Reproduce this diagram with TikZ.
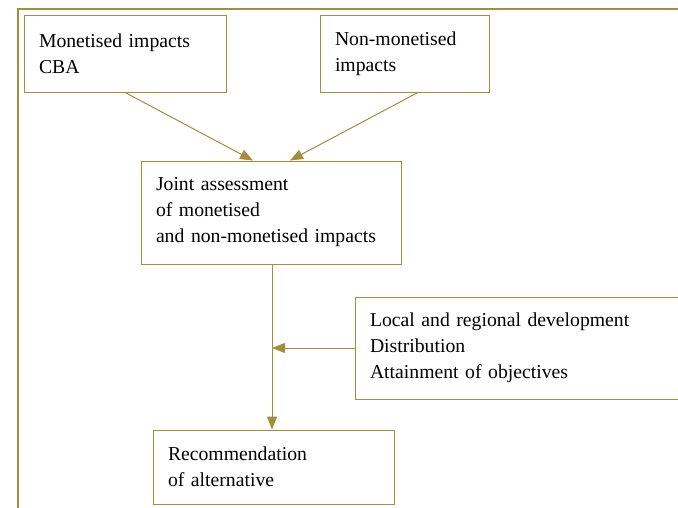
\documentclass[tikz,border=0pt]{standalone}
\usepackage{fontspec}
\setmainfont{Liberation Serif}
\usetikzlibrary{arrows.meta,calc}
\definecolor{gold}{HTML}{A58D3C}
\begin{document}
\begin{tikzpicture}[x=1pt,y=-1pt,
  box/.style={draw=gold, line width=0.9pt, rectangle, align=left,
    inner xsep=15pt, inner ysep=0pt,
    font=\fontsize{19.7}{26}\selectfont},
  link/.style={draw=gold, line width=1pt,
    -{Triangle[length=13pt,width=10pt]}}]
  \useasboundingbox (0,0) rectangle (678,508);
  % outer frame
  \draw[gold, line width=1.1pt] (18,520) -- (18,9) -- (690,9);
  % boxes
  \node[box, text width=172pt, minimum height=77pt] (mon) at (125,53.5)
    {Monetised impacts\\CBA};
  \node[box, text width=139pt, minimum height=77pt] (non) at (404.5,53.5)
    {Non-monetised\\impacts};
  \node[box, text width=230pt, minimum height=103pt] (joint) at (271,212.5)
    {Joint assessment\\of monetised\\and non-monetised impacts};
  \node[box, text width=315pt, minimum height=102pt] (other) at (527.5,348)
    {Local and regional development\\Distribution\\Attainment of objectives};
  \node[box, text width=211pt, minimum height=74pt] (rec) at (273.5,467)
    {Recommendation\\of alternative};
  % connectors
  \coordinate (jl) at ([xshift=-18pt]joint.north);
  \coordinate (jr) at ([xshift=19pt]joint.north);
  \coordinate (ns) at ([xshift=13.5pt]non.south);
  \coordinate (jb) at ([xshift=1pt]joint.south);
  \draw[link] (mon.south) -- (jl);
  \draw[link] (ns) -- (jr);
  \draw[link] (jb) -- (jb |- rec.north);
  \draw[link] (other.west) -- (other.west -| jb);
\end{tikzpicture}
\end{document}
